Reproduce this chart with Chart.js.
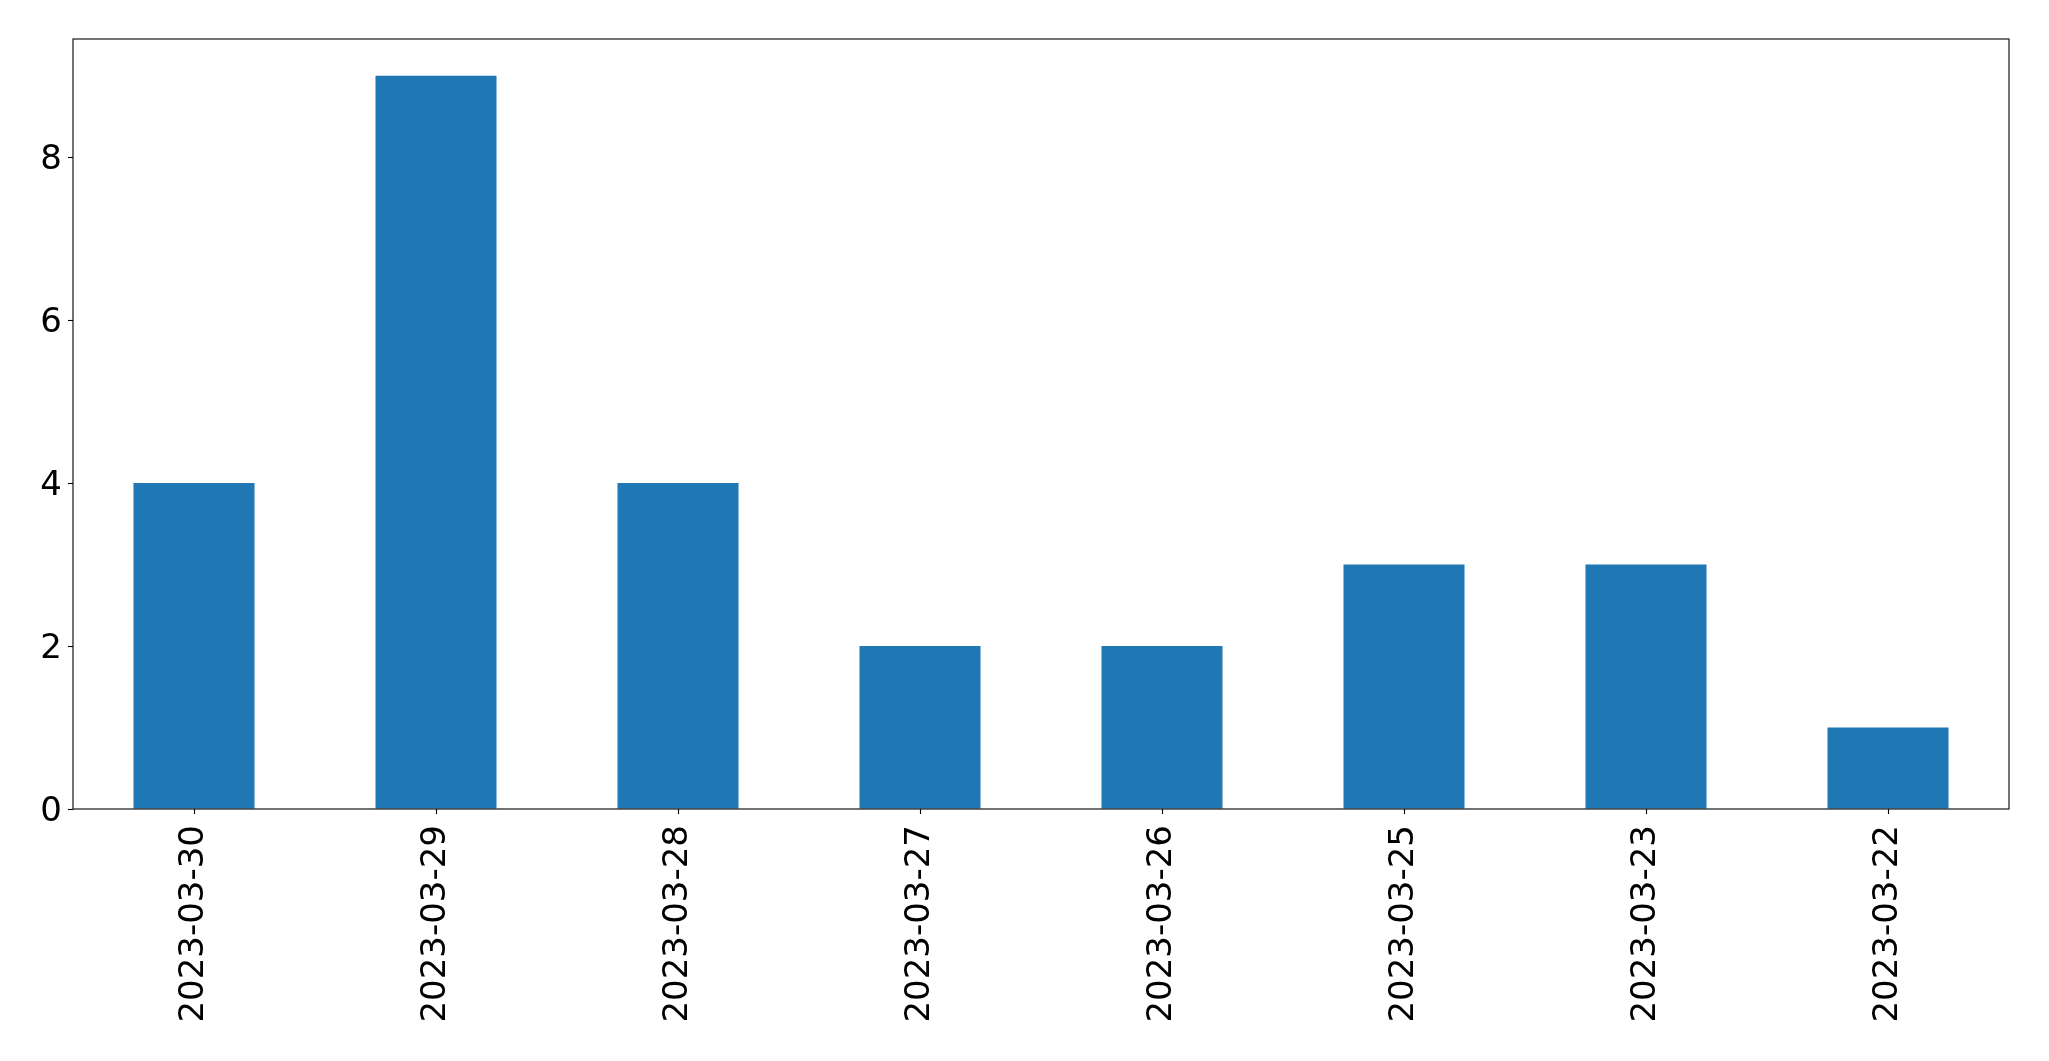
<!DOCTYPE html>
<html>
<head>
<meta charset="utf-8">
<script src="https://cdn.jsdelivr.net/npm/chart.js@4/dist/chart.umd.min.js"></script>
<style>
  html, body { margin: 0; padding: 0; background: #ffffff; }
  #wrap { width: 2049px; height: 1061px; }
</style>
</head>
<body>
<div id="wrap"><canvas id="mycanvas" width="2049" height="1061"></canvas></div>
<script>
var dates = ['2023-03-30', '2023-03-29', '2023-03-28', '2023-03-27', '2023-03-26', '2023-03-25', '2023-03-23', '2023-03-22'];
var counts = [4, 9, 4, 2, 2, 3, 3, 1];
var yTicks = [0, 2, 4, 6, 8];

// draws the box round the plot area, like matplotlib's spines
var frame = {
    id: 'frame',
    afterDraw: function (chart) {
        var a = chart.chartArea;
        var c = chart.ctx;
        c.save();
        c.strokeStyle = '#000000';
        c.lineWidth = 1.1;
        c.strokeRect(a.left, a.top, a.right - a.left, a.bottom - a.top);
        c.restore();
    }
};

var ctx = document.getElementById('mycanvas').getContext('2d');
var myChart = new Chart(ctx, {
    type: 'bar',
    data: {
        labels: dates,
        datasets: [{
            data: counts,
            backgroundColor: '#1f77b4',
            borderWidth: 0,
            categoryPercentage: 1.0,
            barPercentage: 0.5
        }]
    },
    options: {
        responsive: false,
        animation: false,
        layout: { padding: { left: 0, right: 40, top: 39, bottom: 0 } },
        plugins: {
            legend: { display: false },
            tooltip: { enabled: false }
        },
        scales: {
            x: {
                offset: true,
                border: { display: false },
                grid: { display: true, offset: false, drawOnChartArea: false, tickLength: 5, tickColor: '#000000', tickWidth: 1.1 },
                ticks: {
                    minRotation: 90,
                    maxRotation: 90,
                    padding: 11,
                    color: '#000000',
                    font: { family: 'DejaVu Sans', size: 34 }
                },
                afterFit: function (scale) { scale.height = 252; }
            },
            y: {
                min: 0,
                max: 9.45,
                border: { display: false },
                grid: { display: true, drawOnChartArea: false, tickLength: 5, tickColor: '#000000', tickWidth: 1.1 },
                afterBuildTicks: function (scale) {
                    scale.ticks = yTicks.map(function (v) { return { value: v }; });
                },
                ticks: {
                    padding: 6,
                    labelOffset: 3,
                    color: '#000000',
                    font: { family: 'DejaVu Sans', size: 34 }
                },
                afterFit: function (scale) { scale.width = 73; }
            }
        }
    },
    plugins: [frame]
});
</script>
</body>
</html>
